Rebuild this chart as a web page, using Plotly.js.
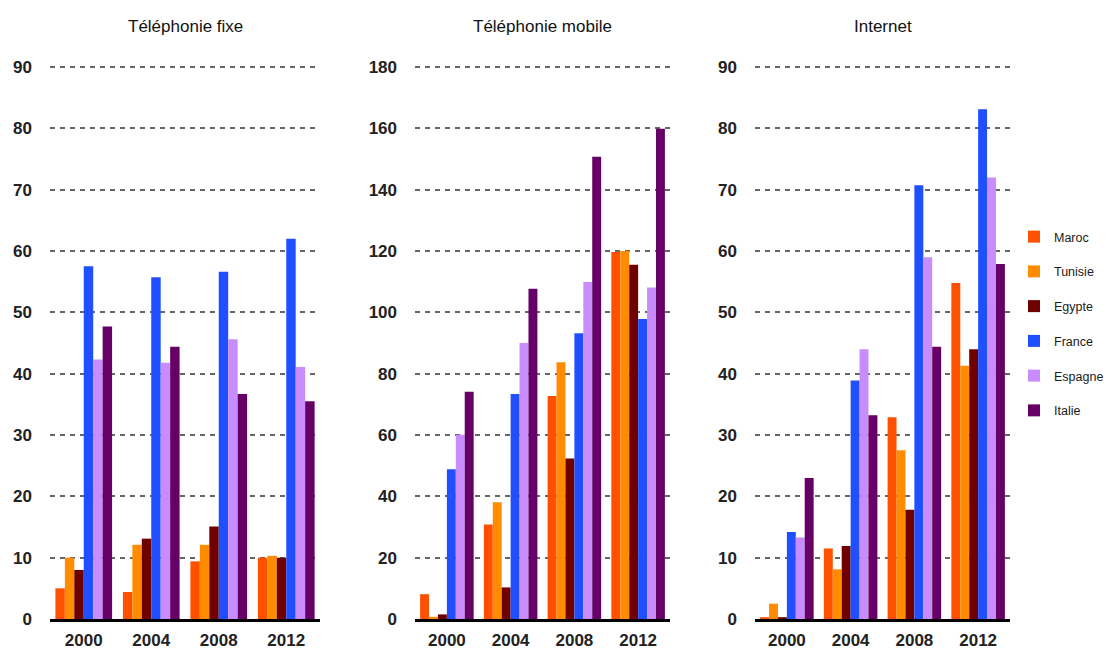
<!DOCTYPE html>
<html><head><meta charset="utf-8">
<script src="https://cdn.plot.ly/plotly-3.0.1.min.js"></script>
<style>html,body{margin:0;padding:0;background:#fff}#chart{width:1118px;height:657px}</style>
</head><body><div id="chart"></div>
<script>
const years = ['2000','2004','2008','2012'];
const countries = ['Maroc','Tunisie','Egypte','France','Espagne','Italie'];
const colors = ['#FF5000','#FF8C00','#6E0000','#1F4FFF','#C88CFF','#660066'];
const panelTitles = ['Téléphonie fixe','Téléphonie mobile','Internet'];

// Téléphonie fixe
const fixeMaroc   = [5.0, 4.4, 9.4, 10.0];
const fixeTunisie = [10.0, 12.1, 12.1, 10.3];
const fixeEgypte  = [8.0, 13.1, 15.1, 10.0];
const fixeFrance  = [57.5, 55.7, 56.6, 62.0];
const fixeEspagne = [42.3, 41.8, 45.6, 41.1];
const fixeItalie  = [47.7, 44.4, 36.7, 35.5];

// Téléphonie mobile
const mobMaroc   = [8.1, 30.8, 72.7, 119.7];
const mobTunisie = [0.7, 38.1, 83.7, 120.0];
const mobEgypte  = [1.5, 10.3, 52.3, 115.5];
const mobFrance  = [48.8, 73.4, 93.2, 97.8];
const mobEspagne = [60.1, 90.0, 109.9, 108.1];
const mobItalie  = [74.1, 107.7, 150.7, 159.9];

// Internet
const netMaroc   = [0.3, 11.5, 32.9, 54.8];
const netTunisie = [2.5, 8.1, 27.5, 41.3];
const netEgypte  = [0.3, 11.9, 17.8, 44.0];
const netFrance  = [14.2, 38.9, 70.7, 83.1];
const netEspagne = [13.3, 44.0, 59.0, 72.0];
const netItalie  = [23.0, 33.2, 44.4, 57.9];

const panels = [
  [fixeMaroc, fixeTunisie, fixeEgypte, fixeFrance, fixeEspagne, fixeItalie],
  [mobMaroc, mobTunisie, mobEgypte, mobFrance, mobEspagne, mobItalie],
  [netMaroc, netTunisie, netEgypte, netFrance, netEspagne, netItalie]
];
const yMax = [90, 180, 90];
const yStep = [10, 20, 10];

const W = 1118, H = 657;
const xPix = [[50, 320], [415, 670], [755, 1010]];
const yTop = 65, yBot = 619;

const traces = [];
panels.forEach((series, p) => {
  series.forEach((vals, i) => {
    traces.push({
      type: 'bar', x: years, y: vals, name: countries[i],
      marker: {color: colors[i], line: {width: 0}},
      xaxis: p === 0 ? 'x' : 'x' + (p + 1),
      yaxis: p === 0 ? 'y' : 'y' + (p + 1),
      showlegend: p === 0, legendgroup: countries[i],
      hoverinfo: 'skip'
    });
  });
});

const fontFam = '"Liberation Sans", Arial, sans-serif';
const layout = {
  width: W, height: H,
  margin: {l: 0, r: 0, t: 0, b: 0},
  paper_bgcolor: '#fff', plot_bgcolor: '#fff',
  barmode: 'group', bargap: 0.16, bargroupgap: 0,
  font: {family: fontFam, color: '#222'},
  showlegend: true,
  legend: {x: 1014 / W, y: 1 - 222 / H, xanchor: 'left', yanchor: 'top',
           font: {size: 12.5, color: '#1a1a1a', family: fontFam},
           tracegroupgap: 15.5, itemwidth: 30, bgcolor: 'rgba(0,0,0,0)'},
  annotations: []
};
panels.forEach((s, p) => {
  const sx = p === 0 ? '' : String(p + 1);
  const span = yMax[p] * (yBot - yTop) / (yBot - 67);
  layout['xaxis' + sx] = {
    domain: [xPix[p][0] / W, xPix[p][1] / W],
    anchor: 'y' + sx, type: 'category',
    range: [-0.5, 3.5],
    showline: true, linecolor: '#000', linewidth: 3,
    showgrid: false, zeroline: false, ticks: '',
    tickfont: {size: 17, family: fontFam, color: '#222', weight: 'bold'},
    ticklabelstandoff: 4, fixedrange: true
  };
  layout['yaxis' + sx] = {
    domain: [1 - yBot / H, 1 - yTop / H],
    anchor: 'x' + sx,
    range: [0, span], dtick: yStep[p], tick0: 0,
    showline: false, zeroline: false,
    showgrid: true, gridcolor: '#666', griddash: '5px,5px', gridwidth: 1.8,
    ticks: '', ticklabelstandoff: 17,
    tickfont: {size: 17, family: fontFam, color: '#222', weight: 'bold'},
    fixedrange: true
  };
  layout.annotations.push({
    text: panelTitles[p], xref: 'paper', yref: 'paper',
    x: (xPix[p][0] + xPix[p][1]) / 2 / W, y: 1 - 27 / H,
    xanchor: 'center', yanchor: 'middle', showarrow: false,
    font: {size: 17, family: fontFam, color: '#111'}
  });
});

Plotly.newPlot('chart', traces, layout, {displayModeBar: false, staticPlot: true});
</script></body></html>
